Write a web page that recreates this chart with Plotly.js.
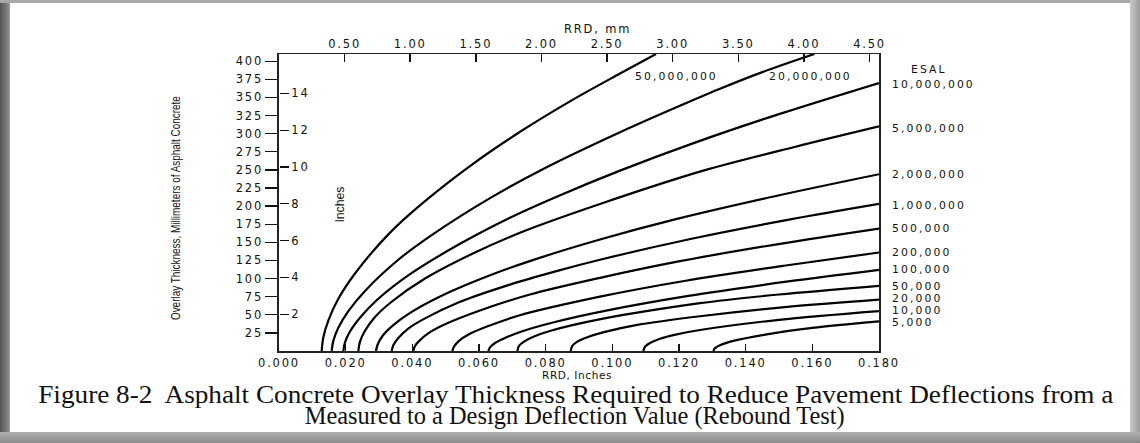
<!DOCTYPE html>
<html>
<head>
<meta charset="utf-8">
<script src="https://cdn.plot.ly/plotly-3.0.1.min.js"></script>
<style>
  html, body { margin: 0; padding: 0; background: #fff; }
  #wrap { position: relative; width: 1140px; height: 443px; overflow: hidden; background: #fff; }
  #chart { position: absolute; left: 0; top: 0; width: 1140px; height: 443px; }
  .bd { position: absolute; }
  .xtick text, .x2tick text, .ytick text, .y2tick text { letter-spacing: 1.8px; }
</style>
</head>
<body>
<div id="wrap">
  <div id="chart"></div>
  <div class="bd" style="left:0;top:0;width:10px;height:443px;background:linear-gradient(90deg,#555,#777 60%,#999);"></div>
  <div class="bd" style="left:0;top:0;width:1140px;height:3px;background:#a8a8a8;"></div>
  <div class="bd" style="left:1130px;top:0;width:10px;height:443px;background:linear-gradient(90deg,#c8c8c8,#9a9a9a);"></div>
  <div class="bd" style="left:0;top:432px;width:1140px;height:11px;background:linear-gradient(180deg,#b0b0b0,#8a8a8a);"></div>
</div>
<script>
// ---- data (RRD in inches, overlay thickness in mm) ----
const esalLabels = ['50,000,000','20,000,000','10,000,000','5,000,000','2,000,000','1,000,000',
                    '500,000','200,000','100,000','50,000','20,000','10,000','5,000'];

const x50M = [0.0128, 0.0133, 0.0148, 0.0178, 0.0228, 0.0328, 0.0428, 0.0578, 0.0728, 0.0878, 0.1023, 0.1131];
const y50M = [0, 19, 42, 72, 107, 161, 203, 257, 304, 346, 383, 410];

const x20M = [0.0158, 0.0163, 0.0178, 0.0208, 0.0258, 0.0358, 0.0458, 0.0633, 0.0800, 0.1023, 0.1175, 0.1323, 0.1450, 0.1606];
const y20M = [0, 14, 32, 55, 83, 126, 160, 211, 253, 302, 333, 362, 385, 410];

const x10M = [0.0193, 0.0198, 0.0213, 0.0243, 0.0293, 0.0393, 0.0543, 0.0693, 0.0833, 0.1023, 0.1250, 0.1500, 0.1800];
const y10M = [0, 12, 27, 46, 70, 106, 148, 184, 213, 249, 288, 327, 370];

const x5M = [0.0238, 0.0243, 0.0258, 0.0288, 0.0338, 0.0438, 0.0588, 0.0738, 0.0963, 0.1273, 0.1550, 0.1800];
const y5M = [0, 13, 28, 47, 68, 100, 136, 166, 203, 249, 282, 310];

const x2M = [0.0291, 0.0296, 0.0311, 0.0341, 0.0391, 0.0491, 0.0641, 0.0791, 0.0963, 0.1191, 0.1491, 0.1800];
const y2M = [0, 9, 21, 35, 52, 77, 106, 130, 154, 182, 214, 244];

const x1M = [0.0338, 0.0343, 0.0358, 0.0388, 0.0438, 0.0538, 0.0688, 0.0838, 0.0963, 0.1238, 0.1538, 0.1800];
const y1M = [0, 8, 18, 31, 45, 67, 91, 111, 126, 155, 182, 203];

const x500k = [0.0403, 0.0408, 0.0423, 0.0453, 0.0503, 0.0603, 0.0753, 0.0963, 0.1203, 0.1503, 0.1800];
const y500k = [0, 7, 15, 26, 38, 56, 78, 101, 124, 148, 169];

const x200k = [0.0520, 0.0525, 0.0540, 0.0570, 0.0620, 0.0720, 0.0963, 0.1220, 0.1520, 0.1800];
const y200k = [0, 6, 14, 23, 33, 49, 75, 97, 118, 136];

const x100k = [0.0628, 0.0633, 0.0648, 0.0678, 0.0728, 0.0828, 0.0963, 0.1228, 0.1528, 0.1800];
const y100k = [0, 5, 11, 18, 27, 40, 54, 76, 96, 112];

const x50k = [0.0715, 0.0720, 0.0735, 0.0765, 0.0815, 0.0965, 0.1263, 0.1500, 0.1800];
const y50k = [0, 7, 13, 20, 28, 44, 66, 78, 90];

const x20k = [0.0875, 0.0880, 0.0895, 0.0925, 0.0975, 0.1075, 0.1263, 0.1525, 0.1800];
const y20k = [0, 7, 13, 19, 26, 36, 48, 61, 71];

const x10k = [0.1093, 0.1098, 0.1113, 0.1143, 0.1193, 0.1263, 0.1500, 0.1800];
const y10k = [0, 6, 11, 17, 23, 29, 43, 55];

const x5k = [0.1303, 0.1308, 0.1323, 0.1363, 0.1463, 0.1600, 0.1800];
const y5k = [0, 4, 8, 14, 23, 32, 41];

// axis tick labels
const inchTicks = [0, 0.02, 0.04, 0.06, 0.08, 0.10, 0.12, 0.14, 0.16, 0.18];
const inchTickText = ['0.000','0.020','0.040','0.060','0.080','0.100','0.120','0.140','0.160','0.180'];
const mmTopTicks = [0.5, 1.0, 1.5, 2.0, 2.5, 3.0, 3.5, 4.0, 4.5];
const mmTopText = ['0.50','1.00','1.50','2.00','2.50','3.00','3.50','4.00','4.50'];
const mmLeftTicks = [25, 50, 75, 100, 125, 150, 175, 200, 225, 250, 275, 300, 325, 350, 375, 400];
const inLeftTicks = [2, 4, 6, 8, 10, 12, 14];

const yTitleText = 'Overlay Thickness, Millimeters of Asphalt Concrete';
const capLine1 = 'Figure 8-2  Asphalt Concrete Overlay Thickness Required to Reduce Pavement Deflections from a';
const capLine2 = 'Measured to a Design Deflection Value (Rebound Test)';

// ---- build traces ----
const curves = [
  [x50M, y50M], [x20M, y20M], [x10M, y10M], [x5M, y5M], [x2M, y2M], [x1M, y1M],
  [x500k, y500k], [x200k, y200k], [x100k, y100k], [x50k, y50k], [x20k, y20k], [x10k, y10k], [x5k, y5k]
];
const data = curves.map((c, i) => ({
  type: 'scatter', mode: 'lines', x: c[0], y: c[1], name: esalLabels[i],
  line: { color: '#000', width: 2.2, shape: 'spline', smoothing: 0.9 },
  hoverinfo: 'skip', showlegend: false, xaxis: 'x', yaxis: 'y'
}));
data.push({ type: 'scatter', mode: 'lines', x: [], y: [], xaxis: 'x2', yaxis: 'y', showlegend: false, hoverinfo: 'skip' });
data.push({ type: 'scatter', mode: 'lines', x: [], y: [], xaxis: 'x', yaxis: 'y2', showlegend: false, hoverinfo: 'skip' });

const YMAX = 410;
const sansFont = { family: 'DejaVu Sans, Verdana, sans-serif', size: 11.5, color: '#111' };
const esalFont = { family: 'DejaVu Sans, Verdana, sans-serif', size: 10.8, color: '#111' };
const condFont = s => ({ family: 'Liberation Sans Narrow, Liberation Sans, Arial, sans-serif', size: s, color: '#111' });

// pixel helpers for annotations (plot area: x 279..879, y 54..351)
const L = 279, R = 879, T = 54, B = 351;
const px = v => (v - L) / (R - L);
const py = v => (B - v) / (B - T);

const esalRightLabels = esalLabels.slice(2);
const esalRightRows = [84, 128, 174, 205, 228, 252, 269, 286, 298.5, 310.5, 322.5];

const annotations = [];
const wide = (s, ls) => '<span style="letter-spacing:' + ls + 'px">' + s + '</span>';
const fitText = {};   // annotation index -> target text length in px (compressed text)
esalRightLabels.forEach((t, i) => annotations.push({
  xref: 'paper', yref: 'paper', x: px(890), y: py(esalRightRows[i]), xanchor: 'left', yanchor: 'middle',
  text: wide(t, 2.1), showarrow: false, font: esalFont
}));
annotations.push({ xref: 'paper', yref: 'paper', x: px(929), y: py(69), xanchor: 'center', yanchor: 'middle',
  text: wide('ESAL', 2.1), showarrow: false, font: esalFont });
annotations.push({ xref: 'paper', yref: 'paper', x: px(676), y: py(76), xanchor: 'center', yanchor: 'middle',
  text: wide(esalLabels[0], 2.1), showarrow: false, font: esalFont });
annotations.push({ xref: 'paper', yref: 'paper', x: px(810), y: py(76), xanchor: 'center', yanchor: 'middle',
  text: wide(esalLabels[1], 2.1), showarrow: false, font: esalFont });
// axis titles
annotations.push({ xref: 'paper', yref: 'paper', x: px(597), y: py(29), xanchor: 'center', yanchor: 'middle',
  text: wide('RRD, mm', 1.8), showarrow: false, font: sansFont });
annotations.push({ xref: 'paper', yref: 'paper', x: px(577), y: py(375), xanchor: 'center', yanchor: 'middle',
  text: wide('RRD, Inches', 0.6), showarrow: false, font: { family: sansFont.family, size: 10.5, color: '#111' } });
fitText[annotations.length] = 224;
annotations.push({ xref: 'paper', yref: 'paper', x: px(176), y: py(208), xanchor: 'center', yanchor: 'middle',
  text: yTitleText, textangle: -90, showarrow: false, font: condFont(12.5) });
fitText[annotations.length] = 36;
annotations.push({ xref: 'paper', yref: 'paper', x: px(340), y: py(205), xanchor: 'center', yanchor: 'middle',
  text: 'Inches', textangle: -90, showarrow: false, font: condFont(12.5) });
// caption
const capFont = { family: 'Liberation Serif, DejaVu Serif, serif', size: 25, color: '#111' };
fitText[annotations.length] = 1075;
annotations.push({ xref: 'paper', yref: 'paper', x: px(575), y: py(394), xanchor: 'center', yanchor: 'middle',
  text: capLine1, showarrow: false, font: capFont });
fitText[annotations.length] = 540;
annotations.push({ xref: 'paper', yref: 'paper', x: px(574), y: py(416), xanchor: 'center', yanchor: 'middle',
  text: capLine2, showarrow: false, font: capFont });

const layout = {
  width: 1140, height: 443,
  margin: { l: L, r: 1140 - R, t: T, b: 443 - B, pad: 0 },
  paper_bgcolor: 'rgba(0,0,0,0)', plot_bgcolor: 'rgba(0,0,0,0)',
  showlegend: false,
  xaxis: {
    range: [0, 0.18], tickvals: inchTicks, ticktext: inchTickText,
    ticks: 'inside', ticklen: 7, tickwidth: 1.5, tickcolor: '#111',
    showline: true, linecolor: '#222', linewidth: 2, mirror: false,
    showgrid: false, zeroline: false, tickfont: sansFont, fixedrange: true
  },
  xaxis2: {
    overlaying: 'x', side: 'top', anchor: 'y',
    range: [0, 0.18 * 25.4], tickvals: mmTopTicks, ticktext: mmTopText,
    ticks: 'inside', ticklen: 8, tickwidth: 1.5, tickcolor: '#111',
    showline: true, linecolor: '#222', linewidth: 1.5,
    showgrid: false, zeroline: false, tickfont: sansFont, fixedrange: true
  },
  yaxis: {
    range: [0, YMAX], tickvals: mmLeftTicks,
    ticks: 'outside', ticklen: 12, tickwidth: 1.3, tickcolor: '#111',
    showline: true, linecolor: '#222', linewidth: 1.6, mirror: true,
    showgrid: false, zeroline: false, tickfont: sansFont, fixedrange: true
  },
  yaxis2: {
    overlaying: 'y', side: 'right', anchor: 'free', position: 0,
    range: [0, YMAX / 25.4], tickvals: inLeftTicks,
    ticks: 'outside', ticklen: 9, tickwidth: 1.3, tickcolor: '#111',
    showline: false, showgrid: false, zeroline: false, tickfont: sansFont, fixedrange: true
  },
  annotations: annotations
};

Plotly.newPlot('chart', data, layout, { staticPlot: true, displayModeBar: false }).then(gd => {
  Object.keys(fitText).forEach(idx => {
    const t = gd.querySelector('.annotation[data-index="' + idx + '"] text.annotation-text');
    if (t) {
      t.setAttribute('textLength', fitText[idx]);
      t.setAttribute('lengthAdjust', 'spacingAndGlyphs');
    }
  });
});
</script>
</body>
</html>
